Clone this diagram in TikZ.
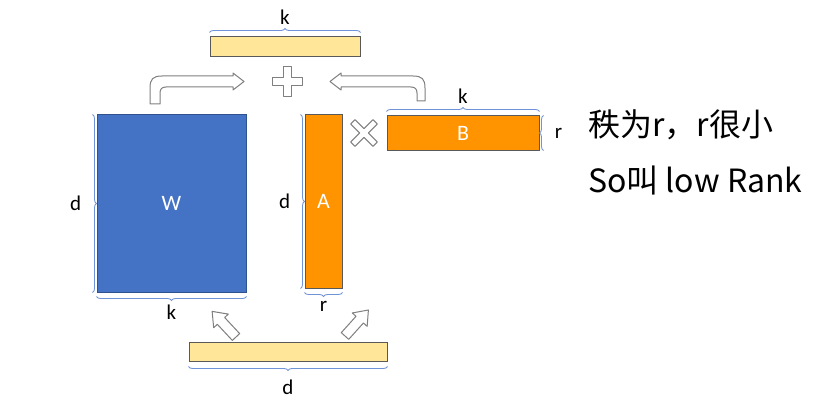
\documentclass[tikz,border=0pt]{standalone}
\usepackage{fontspec}
\setmainfont{Carlito}
\newfontfamily\cjkfont{Noto Sans CJK SC}
\usetikzlibrary{decorations.pathreplacing,calc,positioning}
\definecolor{wblue}{HTML}{4472C4}
\definecolor{wborder}{HTML}{2F528F}
\definecolor{loraorange}{HTML}{FF9300}
\definecolor{baryellow}{HTML}{FFE699}
\definecolor{edgegray}{HTML}{595959}
\definecolor{bracecolor}{HTML}{6F93D6}
\definecolor{outlinegray}{HTML}{7F7F7F}
\tikzset{
  matbox/.style={draw=edgegray, line width=1pt, inner sep=0pt, text=white, font=\fontsize{22}{24}\selectfont},
  wbox/.style={matbox, fill=wblue, draw=wborder},
  orangebox/.style={matbox, fill=loraorange},
  barbox/.style={matbox, fill=baryellow},
  dimbrace/.style={bracecolor, line width=0.9pt, decorate, decoration={brace, amplitude=4pt}},
  dimlabel/.style={font=\fontsize{21}{23}\selectfont, text=black, inner sep=1pt},
  outlineshape/.style={draw=outlinegray, fill=white, line width=1pt, line join=round},
  notetext/.style={font=\cjkfont\fontsize{32}{36}\selectfont, anchor=west, inner sep=0pt},
  plussign/.pic={\draw[outlineshape] (-4,-15) -- (4,-15) -- (4,-4) -- (15,-4) -- (15,4) -- (4,4) -- (4,15) -- (-4,15) -- (-4,4) -- (-15,4) -- (-15,-4) -- (-4,-4) -- cycle;},
  timessign/.pic={\draw[outlineshape] (-3.5,-18) -- (3.5,-18) -- (3.5,-3.5) -- (18,-3.5) -- (18,3.5) -- (3.5,3.5) -- (3.5,18) -- (-3.5,18) -- (-3.5,3.5) -- (-18,3.5) -- (-18,-3.5) -- (-3.5,-3.5) -- cycle;},
  blockarrow/.pic={\draw[outlineshape] (0,-5) -- (22,-5) -- (22,-10) -- (35,0) -- (22,10) -- (22,5) -- (0,5) -- cycle;}
}
\begin{document}
\begin{tikzpicture}[x=1pt, y=-1pt]
  \useasboundingbox (0,0) rectangle (831,404);
  % matrices
  \node[wbox, minimum width=149pt, minimum height=177pt] (W) at (171.5,203.5) {W};
  \node[orangebox, minimum width=37pt, minimum height=173pt] (A) at (323.5,201.5) {A};
  \node[orangebox, minimum width=152pt, minimum height=34pt] (B) at (463,133) {B};
  \node[barbox, minimum width=150pt, minimum height=20pt] (topbar) at (285,47) {};
  \node[barbox, minimum width=198pt, minimum height=19pt] (botbar) at (288,351.5) {};
  % braces
  \draw[dimbrace] ([yshift=4pt]topbar.north west) -- ([yshift=4pt]topbar.north east) node[dimlabel, midway, above=7pt] (topk) {k};
  \draw[dimbrace] ([xshift=-4pt]W.north west) -- ([xshift=-4pt]W.south west) node[dimlabel, midway, left=10pt] (Wd) {d};
  \draw[dimbrace] ([yshift=-4pt]W.south east) -- ([yshift=-4pt]W.south west) node[dimlabel, midway, below=7pt] (Wk) {k};
  \draw[dimbrace] ([xshift=-4pt]A.north west) -- ([xshift=-4pt]A.south west) node[dimlabel, midway, left=9pt] (Ad) {d};
  \draw[dimbrace] ([yshift=-4pt]A.south east) -- ([yshift=-4pt]A.south west) node[dimlabel, midway, below=7pt] (Ar) {r};
  \draw[dimbrace] ([yshift=4pt]B.north west) -- ([yshift=4pt]B.north east) node[dimlabel, midway, above=7pt] (Bk) {k};
  \draw[dimbrace] ([xshift=4pt]B.south east) -- ([xshift=4pt]B.north east) node[dimlabel, midway, right=10pt] (Br) {r};
  \draw[dimbrace] ([yshift=-5pt]botbar.south east) -- ([yshift=-5pt]botbar.south west) node[dimlabel, midway, below=12pt] (botd) {d};
  % plus and times
  \pic at (287,82) {plussign};
  \pic[rotate=45, scale=0.88] at (364,133) {timessign};
  % bent arrows into the plus
  \draw[outlineshape] (150,104) -- (150,88) .. controls (150,79) and (153,76) .. (162,76) -- (233,76) -- (233,73) -- (244,81.5) -- (233,90) -- (233,87) -- (166,87) .. controls (162,87) and (160,89) .. (160,93) -- (160,104) -- cycle;
  \draw[outlineshape] (425,101) -- (425,88) .. controls (425,79) and (422,76) .. (413,76) -- (341,76) -- (341,73) -- (330,81.5) -- (341,90) -- (341,87) -- (411,87) .. controls (415,87) and (417,89) .. (417,93) -- (417,101) -- cycle;
  % arrows from the bottom bar
  \pic[rotate=133] at (236,337) {blockarrow};
  \pic[rotate=48] at (345,336) {blockarrow};
  % note
  \node[notetext] (note1) at (588,125) {秩为r，r很小};
  \node[notetext] (note2) at (588,180) {So叫 low Rank};
\end{tikzpicture}
\end{document}
